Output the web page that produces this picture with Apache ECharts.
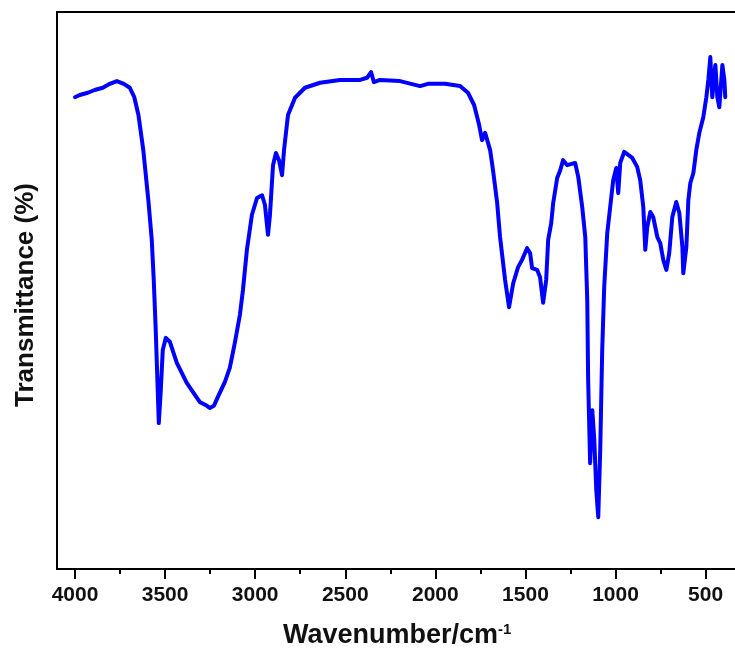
<!DOCTYPE html>
<html>
<head>
<meta charset="utf-8">
<script src="https://cdn.jsdelivr.net/npm/echarts@6/dist/echarts.min.js"></script>
<style>
  html, body { margin: 0; padding: 0; background: #fff; }
  #chart { width: 735px; height: 660px; }
</style>
</head>
<body>
<div id="chart"></div>
<script>
// Wavenumber (cm^-1) and transmittance (arbitrary %)
const wavenumbers = [
  4000, 3974, 3929, 3891, 3846, 3807, 3768, 3729, 3696, 3671,
  3648, 3621, 3593, 3574, 3563, 3552, 3541, 3535, 3524, 3513,
  3496, 3474, 3435, 3380, 3308, 3268, 3252, 3229, 3207, 3168,
  3141, 3113, 3085, 3068, 3046, 3018, 2990, 2962, 2946, 2929,
  2918, 2901, 2885, 2868, 2851, 2840, 2818, 2779, 2724, 2640,
  2529, 2418, 2379, 2357, 2341, 2307, 2196, 2085, 2041, 1947,
  1863, 1819, 1785, 1757, 1741, 1724, 1696, 1680, 1657, 1641,
  1613, 1591, 1568, 1541, 1519, 1491, 1474, 1463, 1435, 1419,
  1402, 1385, 1374, 1357, 1346, 1324, 1307, 1291, 1268, 1224,
  1207, 1185, 1168, 1157, 1152, 1141, 1129, 1118, 1107, 1096,
  1085, 1074, 1063, 1046, 1013, 996, 985, 974, 952, 907,
  880, 863, 846, 835, 824, 807, 791, 768, 752, 735,
  718, 702, 685, 663, 646, 629, 624, 607, 596, 585,
  568, 552, 535, 513, 496, 485, 474, 463, 446, 435,
  424, 407, 396, 391
];
const transmittance = [
  84.7, 85.1, 85.5, 86.0, 86.4, 87.1, 87.6, 87.1, 86.4, 84.7,
  81.5, 75.2, 66.2, 59.1, 51.9, 42.9, 32.1, 26.2, 32.1, 39.3,
  41.5, 40.8, 37.0, 33.4, 30.0, 29.3, 28.9, 29.3, 30.9, 33.6,
  36.1, 40.6, 45.6, 50.1, 57.3, 63.6, 66.6, 67.1, 65.4, 60.0,
  63.6, 72.5, 74.7, 73.4, 70.7, 75.2, 81.5, 84.6, 86.4, 87.3,
  87.8, 87.8, 88.2, 89.2, 87.4, 87.8, 87.6, 86.7, 87.1, 87.1,
  86.7, 85.5, 83.3, 79.7, 77.0, 78.3, 75.2, 71.6, 65.7, 59.6,
  51.9, 47.0, 51.3, 54.2, 55.5, 57.6, 56.7, 54.0, 53.7, 52.4,
  47.8, 51.9, 59.1, 62.1, 65.7, 70.2, 71.6, 73.4, 72.5, 72.9,
  70.4, 65.0, 59.6, 48.3, 33.9, 19.0, 28.5, 23.2, 14.2, 9.3,
  21.4, 39.3, 50.6, 60.3, 69.8, 72.0, 67.5, 72.9, 74.9, 73.8,
  72.2, 69.8, 65.0, 57.3, 61.4, 64.1, 63.2, 59.6, 58.5, 55.5,
  53.7, 56.7, 63.2, 65.9, 63.9, 57.8, 53.1, 57.8, 66.2, 69.3,
  71.1, 75.2, 78.3, 81.1, 84.7, 87.8, 91.9, 84.7, 90.5, 84.7,
  82.9, 90.5, 87.8, 84.7
];
const majorTicks = [4000, 3500, 3000, 2500, 2000, 1500, 1000, 500];
const minorTicks = [3750, 3250, 2750, 2250, 1750, 1250, 750];
const xTitle = 'Wavenumber/cm';
const xTitleSup = '-1';
const yTitle = 'Transmittance (%)';

const FONT = 'Arial, "Liberation Sans", Helvetica, sans-serif';
const xMin = 337, xMax = 4100;

const chart = echarts.init(document.getElementById('chart'), null, { renderer: 'canvas' });
const seriesData = wavenumbers.map((w, i) => [w, transmittance[i]]);

chart.setOption({
  animation: false,
  backgroundColor: '#ffffff',
  grid: { left: 57, top: 12, right: 0, bottom: 91, containLabel: false },
  xAxis: [
    {
      type: 'value', inverse: true, min: xMin, max: xMax, position: 'bottom',
      axisLine: { show: true, onZero: false, lineStyle: { color: '#000', width: 2 } },
      axisTick: { show: true, inside: false, length: 10, customValues: majorTicks,
                  lineStyle: { color: '#000', width: 2 } },
      axisLabel: { show: true, customValues: majorTicks, margin: 16,
                   formatter: v => String(v),
                   fontFamily: FONT, fontWeight: 'bold', fontSize: 21, color: '#111' },
      splitLine: { show: false }
    },
    {
      type: 'value', inverse: true, min: xMin, max: xMax, position: 'bottom',
      axisLine: { show: false, onZero: false },
      axisTick: { show: true, inside: false, length: 5, customValues: minorTicks,
                  lineStyle: { color: '#000', width: 2 } },
      axisLabel: { show: false },
      splitLine: { show: false }
    },
    {
      type: 'value', inverse: true, min: xMin, max: xMax, position: 'top',
      axisLine: { show: true, onZero: false, lineStyle: { color: '#000', width: 2 } },
      axisTick: { show: false },
      axisLabel: { show: false },
      splitLine: { show: false }
    }
  ],
  yAxis: {
    type: 'value', min: 0, max: 100,
    axisLine: { show: true, onZero: false, lineStyle: { color: '#000', width: 2 } },
    axisTick: { show: false },
    axisLabel: { show: false },
    splitLine: { show: false }
  },
  series: [{
    type: 'line',
    xAxisIndex: 0,
    data: seriesData,
    showSymbol: false,
    smooth: false,
    lineStyle: { color: '#0000ff', width: 4, join: 'round', cap: 'round' },
    itemStyle: { color: '#0000ff' }
  }],
  graphic: [
    {
      type: 'text', left: 283, top: 622,
      style: {
        text: '{a|' + xTitle + '}{s|' + xTitleSup + '}',
        rich: {
          a: { fontFamily: FONT, fontWeight: 'bold', fontSize: 27, fill: '#111' },
          s: { fontFamily: FONT, fontWeight: 'bold', fontSize: 15, fill: '#111', verticalAlign: 'top' }
        }
      }
    },
    {
      type: 'text', x: 26, y: 295, rotation: Math.PI / 2,
      style: {
        text: yTitle, fontFamily: FONT, fontWeight: 'bold', fontSize: 26, fill: '#111',
        align: 'center', verticalAlign: 'middle'
      }
    }
  ]
});
</script>
</body>
</html>
